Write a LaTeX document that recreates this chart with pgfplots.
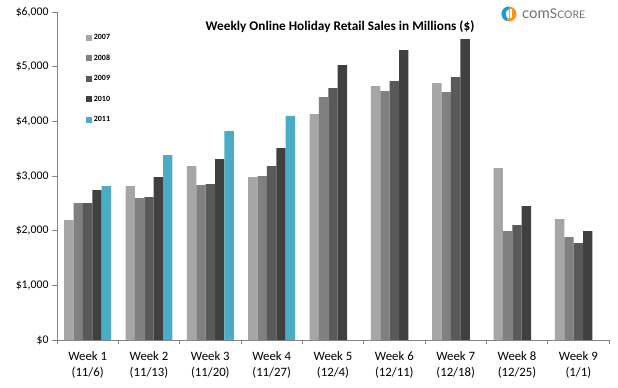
\documentclass[border=0pt]{standalone}
\usepackage{pgfplots}
\pgfplotsset{compat=1.18}
\usepackage{fontspec}
\setmainfont{Carlito}
\newfontfamily\logofont{Lato}
\definecolor{c2007}{HTML}{A6A6A6}
\definecolor{c2008}{HTML}{808080}
\definecolor{c2009}{HTML}{595959}
\definecolor{c2010}{HTML}{404040}
\definecolor{c2011}{HTML}{4BACC6}
\definecolor{axgray}{HTML}{868686}
\definecolor{logoorange}{HTML}{F7941D}
\definecolor{logoblue}{HTML}{1C9BD8}
\definecolor{logogray}{HTML}{6D6E71}
\begin{document}
\begin{tikzpicture}[x=1bp,y=1bp]
\useasboundingbox (0,0) rectangle (618,387);
\begin{axis}[
  at={(57bp,47bp)}, anchor=south west,
  scale only axis, width=552bp, height=328bp,
  ybar=0pt, bar width=0.153,
  xmin=-0.5, xmax=8.5, ymin=0, ymax=6000,
  axis lines*=left, axis line style={axgray, line width=0.8pt, -},
  tick align=outside,
  xtick={0,...,8},
  xticklabels={{Week 1\\(11/6)},{Week 2\\(11/13)},{Week 3\\(11/20)},{Week 4\\(11/27)},{Week 5\\(12/4)},{Week 6\\(12/11)},{Week 7\\(12/18)},{Week 8\\(12/25)},{Week 9\\(1/1)}},
  xticklabel style={font=\fontsize{12.8}{16.5}\selectfont, align=center, text=black},
  major x tick style={draw=none},
  minor xtick={-0.5,0.5,...,8.5},
  minor x tick style={axgray, line width=0.8pt},
  minor tick length=4bp,
  ytick={0,1000,...,6000},
  yticklabels={{\$0},{\$1,000},{\$2,000},{\$3,000},{\$4,000},{\$5,000},{\$6,000}},
  yticklabel style={font=\fontsize{11.8}{12}\selectfont, text=black},
  y tick style={axgray, line width=0.8pt},
  major tick length=5bp,
  xticklabel shift=3bp,
  legend style={draw=none, fill=none, at={(0.052,0.938)}, anchor=north west,
    font=\fontsize{8}{8}\selectfont\bfseries, row sep=9.7bp, inner sep=0pt},
  legend cell align=left,
  legend image code/.code={\fill[#1] (0bp,-3bp) rectangle (6bp,3bp);},
]
\addplot[fill=c2007, draw=none] coordinates {(0,2194) (1,2815) (2,3181) (3,2980) (4,4132) (5,4643) (6,4698) (7,3144) (8,2212)};
\addplot[fill=c2008, draw=none] coordinates {(0,2504) (1,2596) (2,2833) (3,2998) (4,4442) (5,4552) (6,4534) (7,1993) (8,1883)};
\addplot[fill=c2009, draw=none] coordinates {(0,2504) (1,2614) (2,2852) (3,3181) (4,4607) (5,4735) (6,4808) (7,2102) (8,1773)};
\addplot[fill=c2010, draw=none] coordinates {(0,2742) (1,2980) (2,3309) (3,3510) (4,5027) (5,5302) (6,5503) (7,2450) (8,1993)};
\addplot[fill=c2011, draw=none] coordinates {(0,2815) (1,3382) (2,3821) (3,4100)};
\legend{2007,2008,2009,2010,2011}
\end{axis}
\node[font=\fontsize{13.3}{13.3}\selectfont\bfseries] at (340,360) {Weekly Online Holiday Retail Sales in Millions (\$)};
% logo
\begin{scope}[shift={(509,373)}]
  \fill[logoorange] (0,0) circle (7.5);
  \fill[logoblue] (90:7.5) arc (90:250:7.5) -- (0,0) -- cycle;
  \fill[white] (0,-4.5) -- (0,4.5) arc (90:270:3.2 and 4.5) -- cycle;
  \fill[white] (0.8,-4.5) rectangle (2.6,4.5);
\end{scope}
\node[anchor=west, logogray, inner sep=0pt] at (522,373) {\logofont\fontsize{15}{15}\selectfont com\fontsize{13.5}{13.5}\selectfont S\fontsize{10.5}{10.5}\selectfont CORE\fontsize{6}{6}\selectfont .};
\end{tikzpicture}
\end{document}
